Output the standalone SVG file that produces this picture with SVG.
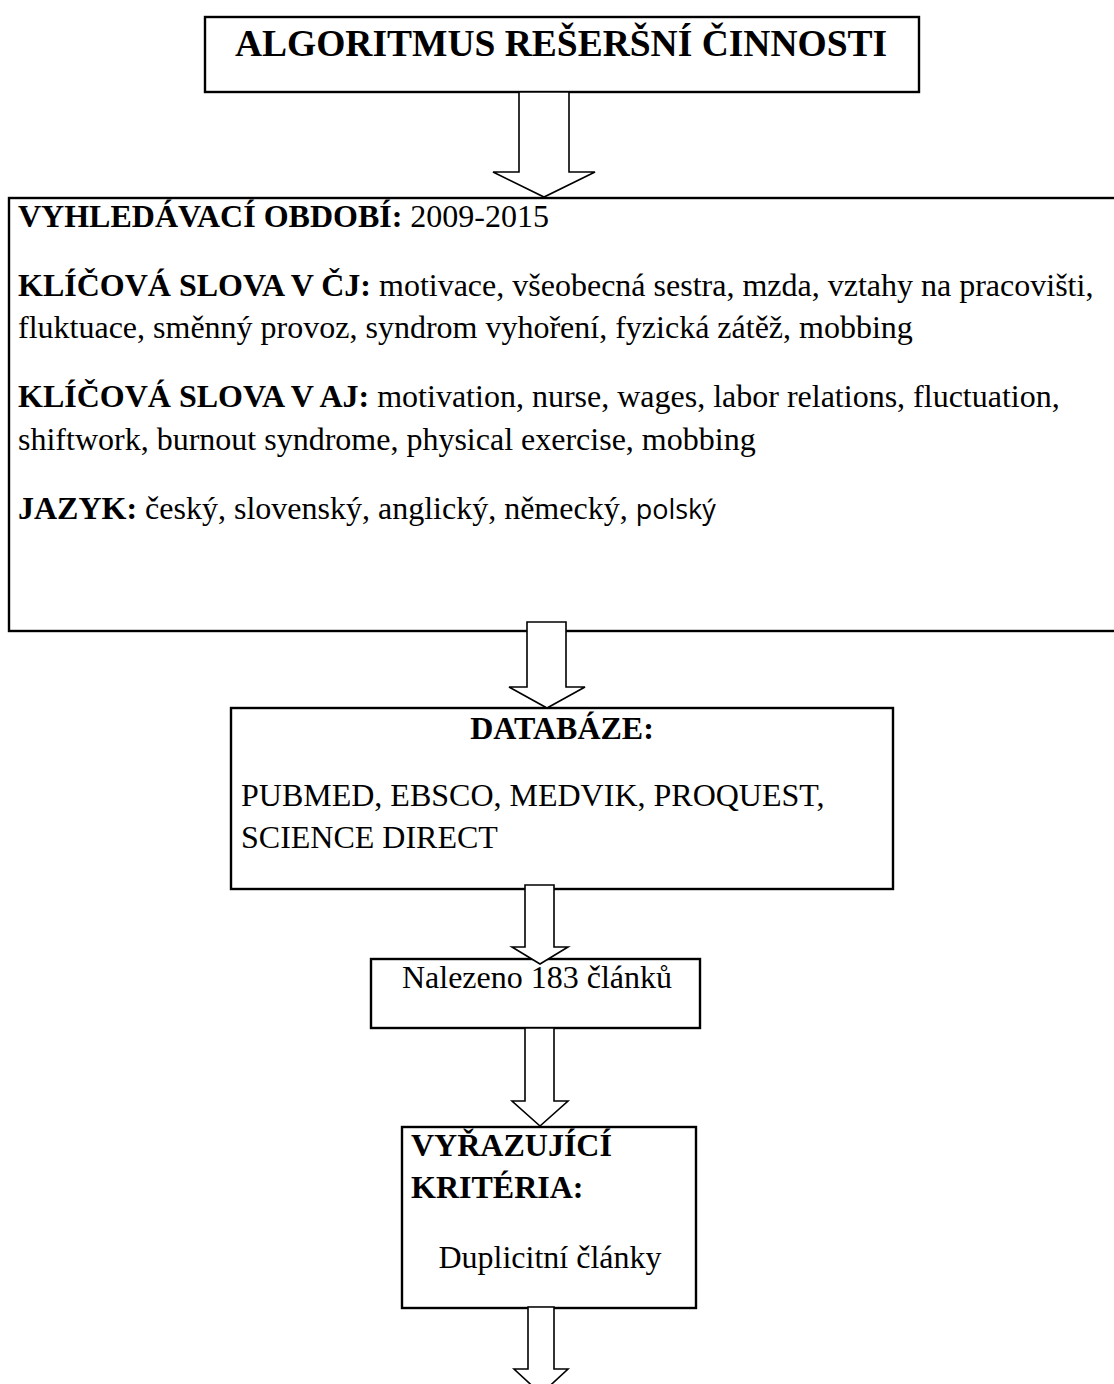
<svg xmlns="http://www.w3.org/2000/svg" width="1114" height="1384" viewBox="0 0 1114 1384">
<style>
.box{fill:#fff;stroke:#000;stroke-width:2.4}
.arr{fill:#fff;stroke:#000;stroke-width:1.6;stroke-linejoin:miter}
.t{font-family:"Liberation Serif","Times New Roman",serif;fill:#000;font-size:32px}
.b{font-weight:bold}
.title{font-size:37.5px}
.sans{font-family:"Open Sans","Noto Sans",sans-serif;font-size:27px}
</style>
<rect width="1114" height="1384" fill="#fff"/>
<g id="n-title">
<rect class="box" x="205" y="17" width="714" height="75"/>
<text class="t b title" x="561" y="56" text-anchor="middle">ALGORITMUS REŠERŠNÍ ČINNOSTI</text>
</g>
<g id="n-params">
<rect class="box" x="9" y="198" width="1120" height="433"/>
<text class="t" x="18" y="227"><tspan class="b">VYHLEDÁVACÍ OBDOBÍ:</tspan> 2009-2015</text>
<text class="t" x="18" y="296"><tspan class="b">KLÍČOVÁ SLOVA V ČJ:</tspan> motivace, všeobecná sestra, mzda, vztahy na pracovišti,</text>
<text class="t" x="18" y="338">fluktuace, směnný provoz, syndrom vyhoření, fyzická zátěž, mobbing</text>
<text class="t" x="18" y="407"><tspan class="b">KLÍČOVÁ SLOVA V AJ:</tspan> motivation, nurse, wages, labor relations, fluctuation,</text>
<text class="t" x="18" y="450">shiftwork, burnout syndrome, physical exercise, mobbing</text>
<text class="t" x="18" y="519"><tspan class="b">JAZYK:</tspan> český, slovenský, anglický, německý, <tspan class="sans">polský</tspan></text>
</g>
<g id="n-db">
<rect class="box" x="231" y="708" width="662" height="181"/>
<text class="t b" x="562" y="739" text-anchor="middle">DATABÁZE:</text>
<text class="t" x="241" y="806">PUBMED, EBSCO, MEDVIK, PROQUEST,</text>
<text class="t" x="241" y="848">SCIENCE DIRECT</text>
</g>
<g id="n-found">
<rect class="box" x="371" y="959" width="329" height="69"/>
<text class="t" x="537" y="988" text-anchor="middle">Nalezeno 183 článků</text>
</g>
<g id="n-excl">
<rect class="box" x="402" y="1127" width="294" height="181"/>
<text class="t b" x="411" y="1156">VYŘAZUJÍCÍ</text>
<text class="t b" x="411" y="1198">KRITÉRIA:</text>
<text class="t" x="550" y="1268" text-anchor="middle">Duplicitní články</text>
</g>
<g id="connectors">
<polygon class="arr" points="519,92 569,92 569,172 595,172 544,197 493,172 519,172"/>
<polygon class="arr" points="527,622 566,622 566,687 585,687 547,708 509,687 527,687"/>
<polygon class="arr" points="525,885 554,885 554,947 568,947 540,964 512,947 525,947"/>
<polygon class="arr" points="525,1028 554,1028 554,1101 568,1101 540,1126 512,1101 525,1101"/>
<polygon class="arr" points="528,1307 554,1307 554,1369 568,1369 541,1394 514,1369 528,1369"/>
</g>
</svg>
